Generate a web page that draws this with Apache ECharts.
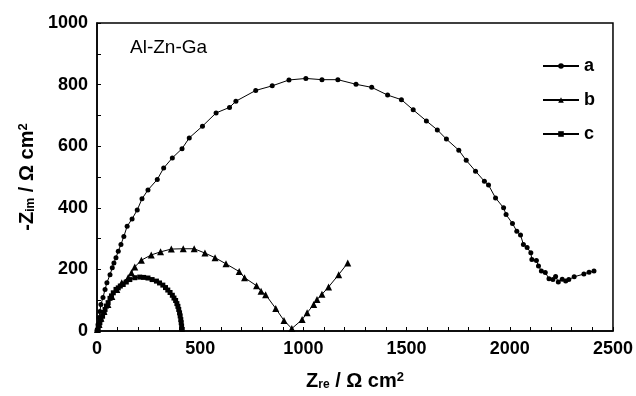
<!DOCTYPE html>
<html>
<head>
<meta charset="utf-8">
<script src="https://cdn.jsdelivr.net/npm/echarts@6/dist/echarts.min.js"></script>
<style>
  html, body { margin: 0; padding: 0; background: #fff; }
  #chart { width: 636px; height: 396px; }
</style>
</head>
<body>
<div id="chart"></div>
<script>
// Nyquist plots of the Al-Zn-Ga anode: [Z_re, -Z_im] in Ω cm²
const seriesNames = ['a', 'b', 'c'];

const curveA = [
  [0, 2], [5, 21], [10, 44], [14, 63], [19, 86], [29, 109], [39, 135], [48, 157],
  [63, 183], [74, 205], [82, 221], [92, 238], [103, 259], [116, 281], [130, 307],
  [146, 340], [170, 364], [195, 393], [218, 429], [247, 458], [292, 492], [323, 529],
  [365, 562], [412, 592], [447, 627], [511, 665], [577, 708], [642, 726], [673, 746],
  [769, 781], [849, 796], [930, 815], [1012, 820], [1090, 816], [1167, 816],
  [1255, 801], [1331, 791], [1408, 766], [1475, 751], [1532, 718], [1596, 682],
  [1649, 653], [1693, 623], [1753, 587], [1789, 554], [1834, 519], [1877, 486],
  [1897, 474], [1931, 432], [1970, 400], [1982, 378], [2013, 349], [2034, 324],
  [2052, 312], [2066, 281], [2084, 271], [2102, 254], [2107, 232], [2129, 229],
  [2139, 211], [2153, 195], [2172, 190], [2190, 170], [2209, 167], [2222, 177],
  [2235, 159], [2254, 168], [2271, 162], [2286, 167], [2312, 176], [2359, 185],
  [2384, 191], [2408, 195]
];

const curveB = [
  [2, 5], [10, 21], [19, 41], [34, 63], [53, 86], [72, 112], [96, 135], [120, 157],
  [151, 174], [167, 189], [183, 208], [215, 230], [263, 247], [308, 257], [360, 266],
  [418, 267], [471, 267], [523, 253], [572, 238], [625, 218], [689, 193], [715, 173],
  [773, 147], [795, 129], [817, 118], [866, 73], [906, 34], [944, 8], [994, 37],
  [1018, 59], [1050, 86], [1066, 102], [1090, 119], [1122, 143], [1171, 183], [1215, 221]
];

const curveC = [
  [2, 2], [6, 10], [10, 18], [14, 27], [19, 37], [27, 48], [34, 60], [39, 70],
  [46, 81], [54, 92], [63, 106], [70, 114], [79, 124], [92, 135], [103, 140],
  [113, 146], [127, 151], [142, 159], [159, 167], [183, 173], [207, 175], [226, 174],
  [247, 172], [267, 167], [288, 162], [303, 156], [319, 149], [332, 141], [343, 133],
  [354, 125], [365, 116], [373, 107], [381, 99], [387, 89], [392, 80], [396, 70],
  [400, 59], [403, 49], [406, 37], [408, 27], [410, 16], [413, 5]
];

// axis ranges and tick steps
const xRange = [0, 2500];
const xStep = 500;
const yRange = [0, 1000];
const yStep = 200;
const alloyLabel = 'Al-Zn-Ga';

const FONT = '"Liberation Sans", Arial, sans-serif';
const INK = '#000';

const chart = echarts.init(document.getElementById('chart'), null, { renderer: 'canvas' });

function lineSeries(name, data, symbol, size) {
  return {
    name: name,
    type: 'line',
    data: data,
    symbol: symbol,
    symbolSize: size,
    showAllSymbol: true,
    smooth: false,
    lineStyle: { color: INK, width: 1 },
    itemStyle: { color: INK, borderWidth: 0 },
    emphasis: { disabled: true },
    animation: false
  };
}

const nameRich = {
  b: { fontFamily: FONT, fontSize: 20, fontWeight: 'bold', color: INK },
  s: { fontFamily: FONT, fontSize: 12, fontWeight: 'bold', color: INK, verticalAlign: 'bottom' },
  p: { fontFamily: FONT, fontSize: 13, fontWeight: 'bold', color: INK, verticalAlign: 'top' }
};

// plain integers, no thousands separator
const plainNumber = function (v) { return String(Math.round(v)); };

const axisCommon = {
  axisLine: { show: true, lineStyle: { color: INK, width: 1.5 } },
  axisTick: { show: true, inside: true, length: 4, lineStyle: { color: INK, width: 1 } },
  minorTick: { show: true, length: 4, lineStyle: { color: INK, width: 1 } },
  splitLine: { show: false },
  minorSplitLine: { show: false },
  axisLabel: { fontFamily: FONT, fontSize: 18, fontWeight: 'bold', color: INK, formatter: plainNumber }
};

chart.setOption({
  backgroundColor: '#fff',
  animation: false,
  grid: {
    left: 97, right: 20, top: 23, bottom: 65,
    show: true, borderColor: INK, borderWidth: 1.5, backgroundColor: 'transparent'
  },
  legend: {
    data: seriesNames,
    orient: 'vertical',
    left: 537,
    top: 52,
    itemWidth: 36,
    itemHeight: 7,
    itemGap: 16,
    textStyle: { fontFamily: FONT, fontSize: 18, fontWeight: 'bold', color: INK, lineHeight: 16 },
    selectedMode: false
  },
  xAxis: Object.assign({}, axisCommon, {
    type: 'value',
    min: xRange[0], max: xRange[1], interval: xStep,
    minorTick: Object.assign({}, axisCommon.minorTick, { splitNumber: 5 }),
    axisLabel: Object.assign({}, axisCommon.axisLabel, { margin: 9 }),
    name: '{b|Z}{s|re}{b| / Ω cm}{p|2}',
    nameLocation: 'middle',
    nameGap: 40,
    nameTextStyle: { rich: nameRich }
  }),
  yAxis: Object.assign({}, axisCommon, {
    type: 'value',
    min: yRange[0], max: yRange[1], interval: yStep,
    minorTick: Object.assign({}, axisCommon.minorTick, { splitNumber: 2 }),
    axisLabel: Object.assign({}, axisCommon.axisLabel, { margin: 9 }),
    name: '{b|-Z}{s|im}{b| / Ω cm}{p|2}',
    nameLocation: 'middle',
    nameRotate: 90,
    nameGap: 60,
    nameTextStyle: { rich: nameRich }
  }),
  graphic: [{
    type: 'text',
    left: 130,
    top: 38,
    style: { text: alloyLabel, fontFamily: FONT, fontSize: 19, fontWeight: 'normal', fill: INK }
  }],
  series: [
    lineSeries(seriesNames[0], curveA, 'circle', 5),
    lineSeries(seriesNames[1], curveB, 'triangle', 7),
    lineSeries(seriesNames[2], curveC, 'rect', 5)
  ]
});
</script>
</body>
</html>
